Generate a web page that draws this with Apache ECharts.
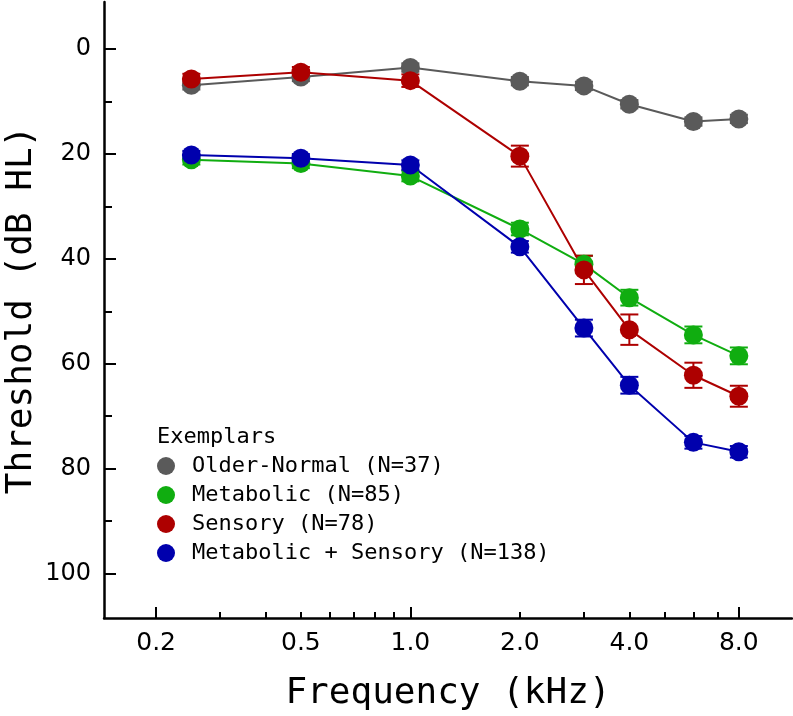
<!DOCTYPE html>
<html>
<head>
<meta charset="utf-8">
<script src="https://cdn.jsdelivr.net/npm/echarts@6/dist/echarts.min.js"></script>
<style>
  html, body { margin: 0; padding: 0; background: #fff; }
  #chart { width: 793px; height: 716px; }
</style>
</head>
<body>
<div id="chart"></div>
<script>
// frequencies (kHz) and mean thresholds (dB HL)
const freqs = [0.25, 0.5, 1, 2, 3, 4, 6, 8]
const olderNormal = [6.9, 5.3, 3.5, 6.1, 7.0, 10.5, 13.8, 13.3]
const metabolic = [21.1, 21.8, 24.2, 34.3, 41.0, 47.4, 54.5, 58.5]
const sensory = [5.7, 4.4, 6.0, 20.4, 42.1, 53.5, 62.2, 66.2]
const metSensory = [20.2, 20.8, 22.1, 37.7, 53.2, 64.1, 75.0, 76.8]

// error bar half-lengths (dB)
const olderNormalErr = [0.8, 0.8, 0.8, 0.8, 0.8, 0.8, 0.8, 0.8]
const metabolicErr = [0.9, 0.9, 1.0, 1.2, 1.6, 1.5, 1.6, 1.6]
const sensoryErr = [1.0, 1.0, 1.2, 2.0, 2.7, 2.9, 2.4, 2.0]
const metSensoryErr = [0.8, 0.8, 0.9, 1.1, 1.6, 1.6, 1.2, 1.1]

const groupNames = ['Older-Normal (N=37)', 'Metabolic (N=85)', 'Sensory (N=78)', 'Metabolic + Sensory (N=138)']
const groupColors = ['#5a5a5a', '#10ad10', '#ad0000', '#0000ad']

const xTickValues = [0.2, 0.3, 0.4, 0.5, 0.6, 0.7, 0.8, 0.9, 1, 2, 3, 4, 5, 6, 7, 8]
const xLongTicks = [0.2, 1, 8]
const xLabelValues = [0.2, 0.5, 1, 2, 4, 8]
const yMajorValues = [0, 20, 40, 60, 80, 100]
const yMinorValues = [10, 30, 50, 70, 90]

const FONT = 'DejaVu Sans'
const MONO = 'DejaVu Sans Mono'
const groups = [olderNormal, metabolic, sensory, metSensory]
const errs = [olderNormalErr, metabolicErr, sensoryErr, metSensoryErr]

const xRange = { min: 0.1438, max: 11.2 }
const yRange = { min: -9, max: 108.5 }

const errorSeries = groups.map((vals, gi) => ({
  type: 'custom',
  silent: true,
  z: 1,
  data: freqs.map((f, i) => [f, vals[i] - errs[gi][i], vals[i] + errs[gi][i]]),
  renderItem: (params, api) => {
    const lo = api.coord([api.value(0), api.value(1)])
    const hi = api.coord([api.value(0), api.value(2)])
    const hw = 9
    const style = { stroke: groupColors[gi], lineWidth: 2 }
    return {
      type: 'group',
      children: [
        { type: 'line', shape: { x1: lo[0], y1: lo[1], x2: hi[0], y2: hi[1] }, style },
        { type: 'line', shape: { x1: lo[0] - hw, y1: lo[1], x2: lo[0] + hw, y2: lo[1] }, style },
        { type: 'line', shape: { x1: hi[0] - hw, y1: hi[1], x2: hi[0] + hw, y2: hi[1] }, style }
      ]
    }
  }
}))

const lineSeries = groups.map((vals, gi) => ({
  name: groupNames[gi],
  type: 'line',
  z: 3,
  data: freqs.map((f, i) => [f, vals[i]]),
  symbol: 'circle',
  symbolSize: 19,
  showAllSymbol: true,
  lineStyle: { color: groupColors[gi], width: 2 },
  itemStyle: { color: groupColors[gi], borderWidth: 0 }
}))

const chart = echarts.init(document.getElementById('chart'))
chart.setOption({
  animation: false,
  textStyle: { fontFamily: FONT },
  title: {
    text: 'Exemplars',
    left: 152,
    top: 421,
    textStyle: { fontFamily: MONO, fontSize: 22, fontWeight: 'normal', color: '#000' }
  },
  legend: {
    orient: 'vertical',
    left: 152,
    top: 450,
    icon: 'circle',
    itemWidth: 18,
    itemHeight: 18,
    itemGap: 7,
    data: groupNames,
    textStyle: { fontFamily: MONO, fontSize: 22, lineHeight: 22, color: '#000', padding: [0, 0, 0, 12] }
  },
  grid: { left: 104, right: 1, top: 2, bottom: 98, containLabel: false, outerBoundsMode: 'none' },
  xAxis: [{
    type: 'log',
    logBase: 10,
    min: xRange.min,
    max: xRange.max,
    name: 'Frequency (kHz)',
    nameLocation: 'middle',
    nameGap: 58,
    nameTextStyle: { fontFamily: MONO, fontSize: 36, color: '#000' },
    axisLine: { onZero: false, lineStyle: { color: '#000', width: 2.5 } },
    axisTick: { inside: true, length: 6, lineStyle: { color: '#000', width: 2 }, customValues: xTickValues },
    axisLabel: {
      customValues: xLabelValues,
      margin: 13,
      fontFamily: FONT,
      fontSize: 25,
      color: '#000',
      formatter: v => Number(v).toFixed(1)
    },
    splitLine: { show: false },
    minorTick: { show: false }
  }, {
    type: 'log',
    logBase: 10,
    min: xRange.min,
    max: xRange.max,
    position: 'bottom',
    axisLine: { show: false, onZero: false },
    axisTick: { inside: true, length: 11, lineStyle: { color: '#000', width: 2 }, customValues: xLongTicks },
    axisLabel: { show: false },
    splitLine: { show: false }
  }],
  yAxis: [{
    type: 'value',
    inverse: true,
    min: yRange.min,
    max: yRange.max,
    name: 'Threshold (dB HL)',
    nameLocation: 'middle',
    nameGap: 64,
    nameMoveOverlap: false,
    nameTextStyle: { fontFamily: MONO, fontSize: 36, color: '#000' },
    axisLine: { show: true, onZero: false, lineStyle: { color: '#000', width: 2.5 } },
    axisTick: { show: true, inside: true, length: 12, lineStyle: { color: '#000', width: 2 }, customValues: yMajorValues },
    axisLabel: { customValues: yMajorValues, margin: 13, fontFamily: FONT, fontSize: 24, color: '#000' },
    splitLine: { show: false }
  }, {
    type: 'value',
    inverse: true,
    min: yRange.min,
    max: yRange.max,
    position: 'left',
    axisLine: { show: false, onZero: false },
    axisTick: { show: true, inside: true, length: 8, lineStyle: { color: '#000', width: 2 }, customValues: yMinorValues },
    axisLabel: { show: false },
    splitLine: { show: false }
  }],
  series: [...errorSeries, ...lineSeries]
})
</script>
</body>
</html>
